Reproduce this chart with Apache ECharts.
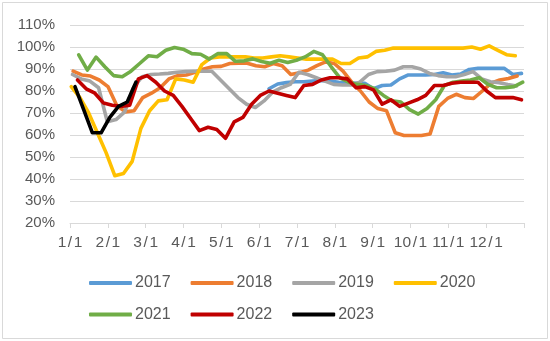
<!DOCTYPE html>
<html>
<head>
<meta charset="utf-8">
<script src="https://cdn.jsdelivr.net/npm/echarts@6/dist/echarts.min.js"></script>
<style>
html,body{margin:0;padding:0;background:#fff;}
#c{width:550px;height:341px;}
</style>
</head>
<body>
<div id="c"></div>
<script>
const years = ['2017','2018','2019','2020','2021','2022','2023'];
const colors = ['#5B9BD5','#ED7D31','#A5A5A5','#FFC000','#70AD47','#C00000','#000000'];
// day of year of the first weekly observation of each year
const firstDay = [6, 2.5, 2, 1, 7, 6, 4];
const monthLabels = ['1/1','2/1','3/1','4/1','5/1','6/1','7/1','8/1','9/1','10/1','11/1','12/1'];
const yTicks = [20,30,40,50,60,70,80,90,100,110];

// weekly values (%), null = no data
const v2017 = [null,null,null,null,null,null,null,null,null,null,null,null,null,null,null,null,null,null,null,null,null,null,
  81,83.2,83.8,84.2,84.2,84.5,84.8,84.5,84,83.8,83.5,83.5,81,82.5,82.7,85.5,87.3,87.3,87.3,87.5,88.3,87.3,87.7,89.8,90.3,90.3,90.3,90.3,87.5,88];
const v2018 = [89,87.3,86.8,85,82,73.5,70.5,71,77,79,81.5,85.5,87,87.3,88.5,90,91,91.2,92.5,92.6,92.6,91.5,91,92.5,91.5,87.5,
  88.3,89.5,91.5,93.2,92.5,89,84,80,75,72,71,61,59.8,59.8,59.8,60.5,73,76.6,78.5,77,76.6,80,83.5,85,85.7,86.8];
const v2019 = [87.5,85.5,84.5,81.5,66,67,70.5,81.5,86.5,87.5,87.7,88,88.5,88.8,89,89,89,85,81,77,74,72.5,75.5,79.5,81.5,83,
  88.5,87.5,86,84.5,83,82.7,82.7,84,87.5,88.8,89,89.5,91,91,90,88,87,86.5,86.5,87.5,88.8,85.5,84.2,83.8,83,82.3];
const v2020 = [82,77,70,61,52,41.5,42.5,48,63,71,75.5,76,85.5,85,84,92,95,95.5,95.5,95.5,95.5,95,95,95.5,96,95.5,
  95,94.5,94.5,94.5,94.5,92.5,92.5,95,95.5,98,98.5,99.5,99.5,99.5,99.5,99.5,99.5,99.5,99.5,99.5,100,99,100.5,98.5,96.5,96];
const v2021 = [96.4,89.5,95.4,91,87,86.5,89,92.5,96,95.6,98.5,99.8,99,97,96.7,94.5,97,97,93.5,93.7,94.6,93.4,92.6,94,93,94,
  95.5,98,96.5,91,86,84,83,82.5,81,78,75.5,75,71.5,69.5,72,76,82.5,84,84.5,85,86,83,81.5,81.5,82,84];
const v2022 = [85,81,79,74.5,73.5,73,73.5,85.5,87,84,80,78,73,67.5,62,63.5,62.5,58.5,66,68,74,78,80,79,78,77,
  82.5,83,85,86,86,85.5,81.5,82,80.5,74,76,73,74.5,76,78,82.5,82.5,83.5,84,84,84,80,77,77,77,76];
const v2023 = [82,71.5,61,61,68,73,75,84];

const seriesValues = [v2017,v2018,v2019,v2020,v2021,v2022,v2023];
const daysPerMonth = 365/12;

const series = years.map((y,k)=>({
  name: y,
  type: 'line',
  data: seriesValues[k].map((v,i)=>[(firstDay[k]+7*i)/daysPerMonth, v]),
  showSymbol: false,
  symbol: 'none',
  connectNulls: false,
  lineStyle: {width: 3.6, color: colors[k], cap: 'round', join: 'round'},
  itemStyle: {color: colors[k]},
  emphasis: {disabled: true},
  animation: false
}));

const font = '"Liberation Sans", Arial, sans-serif';
const legendCommon = {
  orient: 'horizontal',
  icon: 'roundRect',
  itemWidth: 43,
  itemHeight: 4,
  itemGap: 20,
  textStyle: {color: '#595959', fontSize: 16, fontFamily: font, padding: [0,0,0,-2]},
  selectedMode: false
};
const lblStyle = {color: '#595959', fontSize: 15.5, fontFamily: font};

const chart = echarts.init(document.getElementById('c'), null, {renderer: 'canvas'});
chart.setOption({
  animation: false,
  backgroundColor: '#ffffff',
  color: colors,
  graphic: [{type: 'rect', shape: {x: 2.5, y: 2.5, width: 545, height: 336}, style: {fill: 'none', stroke: '#d9d9d9', lineWidth: 1}, silent: true}],
  grid: {left: 70, right: 26, top: 25, bottom: 118, containLabel: false},
  legend: [
    Object.assign({}, legendCommon, {left: 84, top: 270, data: years.slice(0,4)}),
    Object.assign({}, legendCommon, {left: 84, top: 301.5, data: years.slice(4)})
  ],
  xAxis: {
    type: 'value', min: 0, max: 12, interval: 1,
    axisLine: {show: true, lineStyle: {color: '#d9d9d9', width: 1}},
    axisTick: {show: true, length: 5, lineStyle: {color: '#d9d9d9'}},
    splitLine: {show: false},
    axisLabel: {color: '#595959', fontSize: 15.5, fontFamily: font, margin: 12,
      rich: {a: lblStyle, s: Object.assign({padding: [0, 1.6]}, lblStyle)},
      formatter: v => {
        if (!(v >= 0 && v < monthLabels.length)) return '';
        const p = monthLabels[v].split('/');
        return '{a|' + p[0] + '}{s|/}{a|' + p[1] + '}';
      }}
  },
  yAxis: {
    type: 'value', min: yTicks[0], max: yTicks[yTicks.length-1], interval: 10,
    axisLine: {show: false}, axisTick: {show: false},
    splitLine: {lineStyle: {color: '#d9d9d9', width: 1}},
    axisLabel: {color: '#595959', fontSize: 15, fontFamily: font, margin: 15, formatter: '{value}%'}
  },
  series: series
});
</script>
</body>
</html>
